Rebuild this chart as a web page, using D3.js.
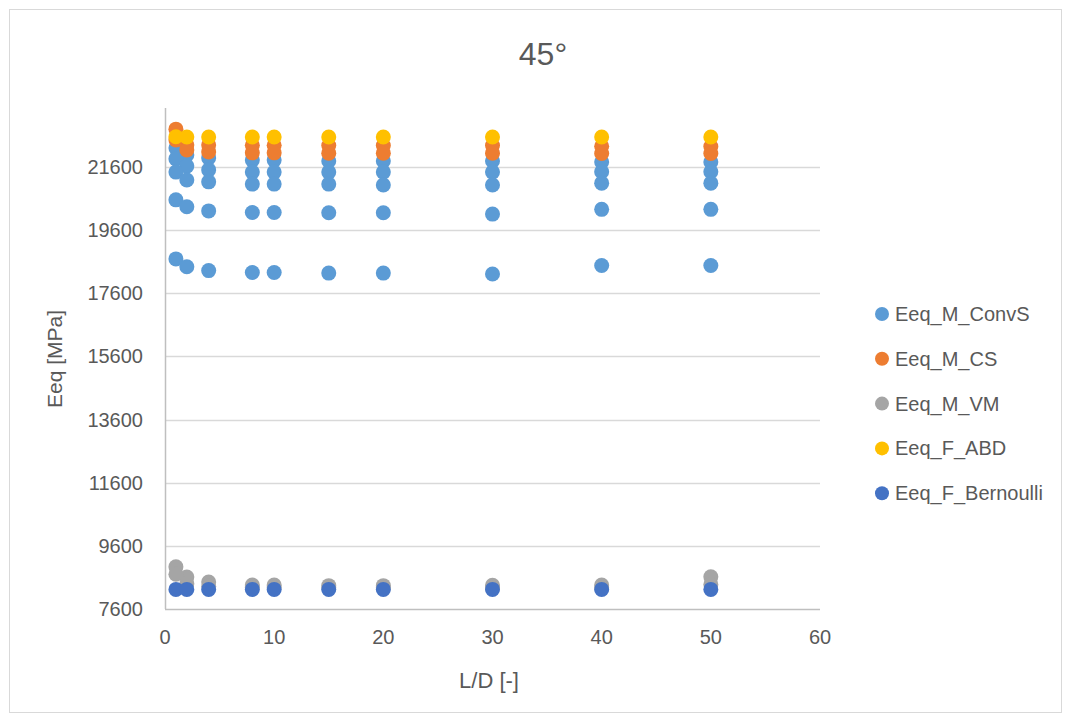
<!DOCTYPE html>
<html>
<head>
<meta charset="utf-8">
<script src="https://cdn.jsdelivr.net/npm/d3@7"></script>
<style>
  body { margin: 0; background: #fff; }
  svg text { font-family: "Liberation Sans", Arial, sans-serif; fill: #595959; }
</style>
</head>
<body>
<div id="chart"></div>
<script>
// L/D ratios on the x axis
const ldRatio = [1, 2, 4, 8, 10, 15, 20, 30, 40, 50];

// each series has several runs, one value per L/D
const convS = [
  [22200, 21980, 21890, 21820, 21820, 21790, 21790, 21790, 21760, 21760],
  [21860, 21630, 21510, 21440, 21440, 21440, 21440, 21440, 21450, 21450],
  [21440, 21190, 21130, 21060, 21060, 21060, 21030, 21030, 21090, 21090],
  [20560, 20340, 20210, 20160, 20160, 20150, 20150, 20110, 20260, 20260],
  [18690, 18440, 18320, 18260, 18260, 18240, 18240, 18210, 18480, 18480]
];
const cs = [
  [22800, 22300, 22300, 22290, 22290, 22280, 22280, 22280, 22260, 22250],
  [22460, 22140, 22080, 22050, 22050, 22040, 22040, 22040, 22030, 22030]
];
const vm = [
  [8940, 8610, 8455, 8360, 8360, 8340, 8340, 8350, 8360, 8620],
  [8700, 8400, 8320, 8280, 8280, 8270, 8270, 8270, 8270, 8380]
];
const abd = [
  [22560, 22550, 22550, 22550, 22550, 22550, 22550, 22550, 22550, 22550]
];
const bernoulli = [
  [8220, 8220, 8220, 8220, 8220, 8220, 8220, 8220, 8220, 8220]
];

const seriesNames = ['Eeq_M_ConvS', 'Eeq_M_CS', 'Eeq_M_VM', 'Eeq_F_ABD', 'Eeq_F_Bernoulli'];
const seriesData = [convS, cs, vm, abd, bernoulli];
const colors = ['#5B9BD5', '#ED7D31', '#A5A5A5', '#FFC000', '#4472C4'];

const xTicks = [0, 10, 20, 30, 40, 50, 60];
const yTicks = [7600, 9600, 11600, 13600, 15600, 17600, 19600, 21600];

const width = 1069, height = 721;
const plot = { left: 165, right: 820, top: 108, bottom: 609 };

const svg = d3.select('#chart').append('svg')
  .attr('width', width)
  .attr('height', height);

// chart border
svg.append('rect')
  .attr('x', 9.5).attr('y', 9.5)
  .attr('width', 1052).attr('height', 703)
  .attr('fill', '#fff')
  .attr('stroke', '#d9d9d9');

const x = d3.scaleLinear().domain([0, 60]).range([plot.left, plot.right]);
const y = d3.scaleLinear().domain([7600, 23470]).range([plot.bottom, plot.top]);

// gridlines
svg.append('g')
  .selectAll('line')
  .data(yTicks.slice(1))
  .enter()
  .append('line')
  .attr('x1', plot.left).attr('x2', plot.right)
  .attr('y1', d => Math.round(y(d)) + 0.5)
  .attr('y2', d => Math.round(y(d)) + 0.5)
  .attr('stroke', '#d9d9d9')
  .attr('stroke-width', 1.5);

// axis lines
svg.append('line')
  .attr('x1', plot.left).attr('x2', plot.right)
  .attr('y1', plot.bottom + 0.5).attr('y2', plot.bottom + 0.5)
  .attr('stroke', '#bfbfbf').attr('stroke-width', 1.5);
svg.append('line')
  .attr('x1', plot.left + 0.5).attr('x2', plot.left + 0.5)
  .attr('y1', plot.top).attr('y2', plot.bottom)
  .attr('stroke', '#bfbfbf').attr('stroke-width', 1.5);

// tick labels
svg.append('g')
  .selectAll('text')
  .data(yTicks)
  .enter()
  .append('text')
  .attr('x', 143)
  .attr('y', d => y(d))
  .attr('dy', '0.35em')
  .attr('text-anchor', 'end')
  .style('font-size', '20px')
  .text(d => d);

svg.append('g')
  .selectAll('text')
  .data(xTicks)
  .enter()
  .append('text')
  .attr('x', d => x(d))
  .attr('y', 637)
  .attr('dy', '0.35em')
  .attr('text-anchor', 'middle')
  .style('font-size', '20px')
  .text(d => d);

// titles
svg.append('text')
  .attr('x', 543).attr('y', 65)
  .attr('text-anchor', 'middle')
  .style('font-size', '32px')
  .text('45°');

svg.append('text')
  .attr('x', 489).attr('y', 680)
  .attr('dy', '0.35em')
  .attr('text-anchor', 'middle')
  .style('font-size', '22px')
  .text('L/D [-]');

svg.append('text')
  .attr('transform', 'translate(62,359)rotate(-90)')
  .attr('text-anchor', 'middle')
  .style('font-size', '21px')
  .text('Eeq [MPa]');

// points, series drawn in order so later ones sit on top
seriesData.forEach((rows, si) => {
  const pts = [];
  rows.forEach(row => row.forEach((v, i) => pts.push({ ld: ldRatio[i], v: v })));
  svg.append('g')
    .selectAll('circle')
    .data(pts)
    .enter()
    .append('circle')
    .attr('cx', d => x(d.ld))
    .attr('cy', d => y(d.v))
    .attr('r', 7.5)
    .attr('fill', colors[si]);
});

// legend
const legend = svg.append('g')
  .selectAll('g')
  .data(seriesNames)
  .enter()
  .append('g')
  .attr('transform', (d, i) => 'translate(882,' + (314 + i * 44.8) + ')');

legend.append('circle')
  .attr('r', 7)
  .attr('fill', (d, i) => colors[i]);

legend.append('text')
  .attr('x', 13)
  .attr('dy', '0.35em')
  .style('font-size', '20px')
  .text(d => d);
</script>
</body>
</html>
